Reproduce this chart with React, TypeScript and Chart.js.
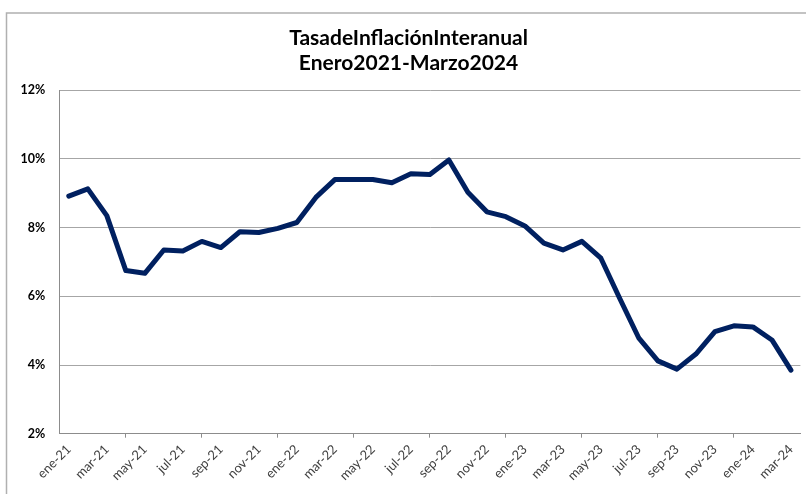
import React, { useEffect, useRef } from "react";
import { Chart, registerables } from "chart.js";

Chart.register(...registerables);

const titleLines = ["TasadeInflaciónInteranual", "Enero2021-Marzo2024"];

const months = ["ene", "feb", "mar", "abr", "may", "jun", "jul", "ago", "sep", "oct", "nov", "dic"];
const years = ["21", "22", "23", "24"];

const categories: string[] = [
  ...months.map((m) => `${m}-${years[0]}`),
  ...months.map((m) => `${m}-${years[1]}`),
  ...months.map((m) => `${m}-${years[2]}`),
  "ene-24",
  "feb-24",
  "mar-24",
];

const inflation = [
  8.92, 9.13, 8.35, 6.75, 6.67, 7.35, 7.32, 7.6, 7.42, 7.88, 7.86, 7.98,
  8.15, 8.88, 9.4, 9.4, 9.4, 9.31, 9.57, 9.55, 9.97, 9.03, 8.46, 8.32,
  8.05, 7.55, 7.35, 7.6, 7.11, 5.93, 4.78, 4.12, 3.88, 4.32, 4.97, 5.14,
  5.11, 4.73, 3.85,
];

const yMin = 2;
const yMax = 12;
const yStep = 2;

const framePlugin = {
  id: "frame",
  beforeDraw(chart: any) {
    const ctx = chart.ctx;
    ctx.save();
    ctx.fillStyle = "#ffffff";
    ctx.fillRect(0, 0, chart.width, chart.height);
    ctx.strokeStyle = "#b0b0b0";
    ctx.lineWidth = 1.5;
    ctx.beginPath();
    ctx.moveTo(6.5, chart.height + 5);
    ctx.lineTo(6.5, 13);
    ctx.lineTo(chart.width + 5, 13);
    ctx.stroke();
    ctx.restore();
  },
};

export default function App() {
  const ref = useRef<HTMLCanvasElement | null>(null);

  useEffect(() => {
    if (!ref.current) return;
    const chart = new Chart(ref.current, {
      type: "line",
      data: {
        labels: categories,
        datasets: [
          {
            data: inflation,
            borderColor: "#002060",
            backgroundColor: "#002060",
            borderWidth: 5,
            pointRadius: 0,
            tension: 0,
            borderJoinStyle: "round",
            borderCapStyle: "round",
          },
        ],
      },
      options: {
        animation: false,
        responsive: false,
        devicePixelRatio: 1,
        layout: { padding: { left: 15, right: 4, top: 0, bottom: 0 } },
        plugins: {
          legend: { display: false },
          tooltip: { enabled: false },
          title: {
            display: true,
            text: titleLines,
            color: "#000000",
            font: { family: "Lato", size: 21, weight: "bold", lineHeight: 1.19 },
            padding: { top: 25.5, bottom: 14.8 },
          },
        },
        scales: {
          x: {
            type: "category",
            offset: true,
            afterFit(scale: any) {
              scale.height = 60.3;
            },
            grid: {
              offset: true,
              drawOnChartArea: false,
              drawTicks: true,
              tickLength: 4,
              color: (c: any) => (c.index !== undefined && c.index % 2 === 0 ? "#8c8c8c" : "rgba(0,0,0,0)"),
              tickColor: (c: any) => (c.index !== undefined && c.index % 2 === 0 ? "#8c8c8c" : "rgba(0,0,0,0)"),
            },
            border: { display: true, color: "#8c8c8c", width: 1 },
            ticks: {
              autoSkip: false,
              minRotation: 45,
              maxRotation: 45,
              padding: 4,
              color: "#404040",
              font: { family: "Lato", size: 13 },
              callback: (_v: any, i: number) => (i % 2 === 0 ? categories[i] : null),
            },
          },
          y: {
            min: yMin,
            max: yMax,
            afterFit(scale: any) {
              scale.width = 44.3;
            },
            grid: {
              color: "#a6a6a6",
              lineWidth: 1,
              drawTicks: false,
            },
            border: { display: true, color: "#8c8c8c", width: 1 },
            ticks: {
              stepSize: yStep,
              padding: 14,
              color: "#000000",
              font: { family: "Lato", size: 12.5, weight: "bold" },
              callback: (v: any) => `${v}%`,
            },
          },
        },
      },
      plugins: [framePlugin],
    });
    return () => chart.destroy();
  }, []);

  return (
    <div style={{ position: "fixed", left: 0, top: 0, width: 806, height: 494, overflow: "hidden", background: "#fff" }}>
      <canvas ref={ref} width={806} height={494} style={{ width: 806, height: 494, display: "block" }} />
    </div>
  );
}
